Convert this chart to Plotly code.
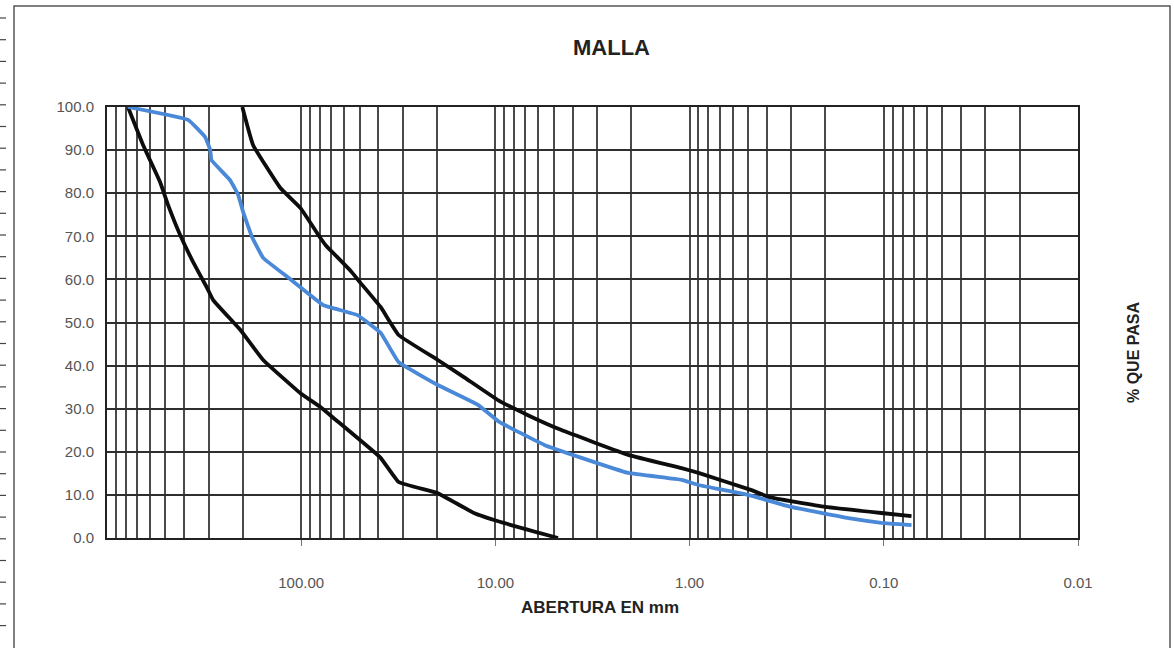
import plotly.graph_objects as go

# ---- data ----
upper_mm = [201, 177, 128, 101, 79.6, 75, 55.7, 49.5, 39, 31.5, 19.8, 14.6, 9.7, 6.8, 4.6, 2.07, 1.10, 0.90, 0.48, 0.39, 0.20, 0.103, 0.072]
upper_pct = [100, 91.2, 81.2, 76.6, 69.6, 68, 62.0, 59.2, 53.6, 47.1, 41.3, 37.4, 32, 28.5, 25.1, 19.3, 16.2, 15.1, 11.1, 9.5, 7.2, 5.8, 5.1]

blue_mm = [780, 382, 312, 294, 290, 232, 211, 199, 179, 157, 118, 101, 76.7, 51.3, 39, 31.5, 19.8, 12.3, 9.6, 5.6, 3.6, 2.07, 1.10, 0.90, 0.50, 0.30, 0.152, 0.103, 0.072]
blue_pct = [100, 97, 93, 90, 87.7, 83, 79.6, 75.6, 69.8, 65, 60.6, 58.2, 54, 51.7, 47.6, 40.8, 35.5, 30.9, 27, 21.6, 18.6, 15.1, 13.5, 12.3, 10, 7.2, 4.6, 3.5, 3.0]

lower_mm = [780, 652, 533, 485, 420, 360, 305, 284, 206, 157, 101, 79.6, 68, 39, 31.5, 19.8, 12.9, 9.4, 4.76]
lower_pct = [100, 91.2, 82.6, 77.3, 70.3, 64, 58, 55.2, 48.3, 41.3, 33.6, 30.4, 27.8, 18.6, 13, 10.4, 5.8, 3.7, 0]

x_major_vals = [100, 10, 1, 0.1, 0.01]
x_major_text = ["100.00", "10.00", "1.00", "0.10", "0.01"]
x_minor_vals = [k * 10.0 ** d for d in range(-2, 3) for k in range(2, 10)]
y_ticks = [0, 10, 20, 30, 40, 50, 60, 70, 80, 90, 100]

W, H = 1174, 648
L, R, T, B = 107, 96, 107, 110

FONT = "Liberation Sans, Arial, sans-serif"

fig = go.Figure()
fig.add_trace(go.Scatter(x=upper_mm, y=upper_pct, mode="lines",
                         line=dict(color="#0d0d0d", width=3.8, shape="spline", smoothing=0.3),
                         showlegend=False))
fig.add_trace(go.Scatter(x=lower_mm, y=lower_pct, mode="lines",
                         line=dict(color="#0d0d0d", width=3.8, shape="spline", smoothing=0.3),
                         showlegend=False))
fig.add_trace(go.Scatter(x=blue_mm, y=blue_pct, mode="lines",
                         line=dict(color="#4a88d8", width=3.8, shape="spline", smoothing=0.25),
                         showlegend=False))

fig.update_layout(
    width=W, height=H,
    margin=dict(l=L, r=R, t=T, b=B, pad=0),
    paper_bgcolor="white", plot_bgcolor="white",
    font=dict(family=FONT, color="#444"),
    xaxis=dict(
        type="log", range=[3, -2],
        tickmode="array", tickvals=x_major_vals, ticktext=x_major_text,
        ticks="outside", ticklen=6, tickwidth=1.4, tickcolor="#777",
        tickfont=dict(size=15, color="#555"),
        ticklabelstandoff=24,
        showgrid=True, gridcolor="#4a4a4a", gridwidth=1.9,
        minor=dict(tickmode="array", tickvals=x_minor_vals, showgrid=True,
                   gridcolor="#4a4a4a", gridwidth=1.9, ticks=""),
        showline=True, linecolor="#222", linewidth=2, mirror=True,
        zeroline=False,
    ),
    yaxis=dict(
        range=[0, 100], tickmode="array", tickvals=y_ticks, tickformat=".1f",
        ticks="", tickfont=dict(size=15, color="#555"), ticklabelstandoff=8,
        showgrid=True, gridcolor="#2e2e2e", gridwidth=2,
        showline=True, linecolor="#222", linewidth=2, mirror=True,
        zeroline=False,
    ),
)

# Title and axis titles
fig.add_annotation(text="<b>MALLA</b>", xref="paper", yref="paper",
                   x=(611 - L) / (W - L - R), y=1 + (T - 47) / (H - T - B),
                   xanchor="center", yanchor="middle", showarrow=False,
                   font=dict(size=22, color="#222", family=FONT))
fig.add_annotation(text="<b>ABERTURA EN mm</b>", xref="paper", yref="paper",
                   x=(600 - L) / (W - L - R), y=-(607 - (H - B)) / (H - T - B),
                   xanchor="center", yanchor="middle", showarrow=False,
                   font=dict(size=17, color="#222", family=FONT))
fig.add_annotation(text="<b>% QUE PASA</b>", xref="paper", yref="paper",
                   x=(1133 - L) / (W - L - R), y=(H - B - 352) / (H - T - B),
                   xanchor="center", yanchor="middle", showarrow=False, textangle=-90,
                   font=dict(size=16, color="#222", family=FONT))

# outer chart frame and cropped sheet grid on the left
def px_x(p):
    return (p - L) / (W - L - R)

def px_y(p):
    return (H - B - p) / (H - T - B)

fig.add_shape(type="rect", xref="paper", yref="paper",
              x0=px_x(14), x1=px_x(1170), y0=px_y(6), y1=px_y(652),
              line=dict(color="#555", width=1.5), layer="below")
for i in range(29):
    yy = 18 + 21.7 * i
    fig.add_shape(type="line", xref="paper", yref="paper",
                  x0=px_x(0), x1=px_x(6 if abs(yy - 532) > 3 else 14),
                  y0=px_y(yy), y1=px_y(yy),
                  line=dict(color="#444", width=1.2))

fig.write_html("out.html", config={"displayModeBar": False},
               post_script="document.body.style.margin='0';document.body.style.overflow='hidden';")
